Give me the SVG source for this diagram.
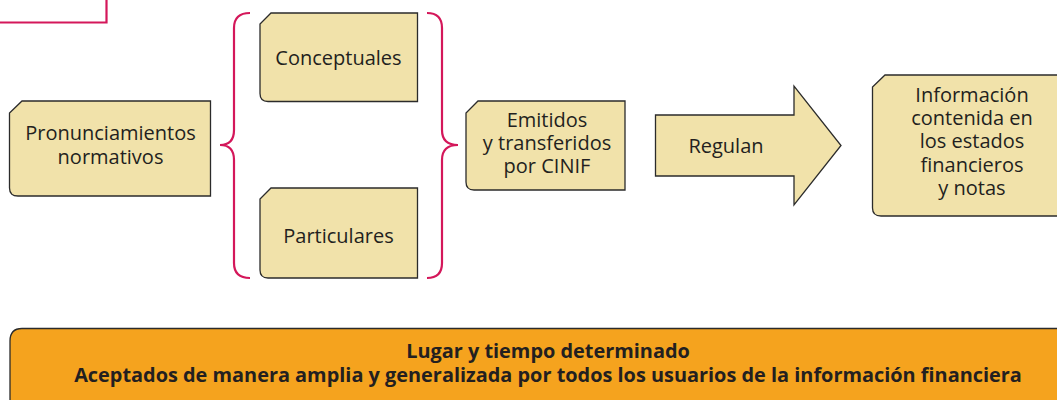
<svg xmlns="http://www.w3.org/2000/svg" width="1057" height="400" viewBox="0 0 1057 400">
<style>
.box{fill:#f1e2aa;stroke:#2b2b2b;stroke-width:1.3}
.t{font-family:"Open Sans","Noto Sans",sans-serif;font-size:20px;fill:#231f20;text-anchor:middle}
.b{font-family:"Open Sans","Noto Sans",sans-serif;font-size:19.9px;font-weight:bold;fill:#231f20;text-anchor:middle}
.red{fill:none;stroke:#d4175a;stroke-width:2.2}
</style>
<rect width="1057" height="400" fill="#ffffff"/>
<g id="corner-frame"><path class="red" d="M0 22.5 H106.5 V0"/></g>
<g id="connectors">
<path id="brace-left" class="red" d="M250 13 Q234 13 234 28 V130 Q234 145 220 145 Q234 145 234 160 V263 Q234 278 250 278"/>
<path id="brace-right" class="red" d="M427 13 Q442 13 442 28 V130 Q442 145 458 145 Q442 145 442 160 V263 Q442 278 427 278"/>
</g>
<g id="n-pronunciamientos">
<path class="box" d="M22 101 H210.5 V196 H18 Q9.5 196 9.5 188 V113 Z"/>
<text class="t" x="110.5" y="140">Pronunciamientos</text>
<text class="t" x="110.5" y="164">normativos</text>
</g>
<g id="n-conceptuales">
<path class="box" d="M271 13 H417.5 V101.5 H268 Q260 101.5 260 93.5 V24 Z"/>
<text class="t" x="338.5" y="65">Conceptuales</text>
</g>
<g id="n-particulares">
<path class="box" d="M271 188 H417.5 V278 H268 Q260 278 260 270 V199 Z"/>
<text class="t" x="338.5" y="243">Particulares</text>
</g>
<g id="n-emitidos">
<path class="box" d="M478 101 H625 V190 H474 Q466 190 466 182 V113 Z"/>
<text class="t" x="547" y="127">Emitidos</text>
<text class="t" x="547" y="150">y transferidos</text>
<text class="t" x="547" y="173">por CINIF</text>
</g>
<g id="n-regulan">
<path class="box" d="M655.5 115 H794 V86 L841 145.5 L794 205 V176 H655.5 Z"/>
<text class="t" x="726" y="153">Regulan</text>
</g>
<g id="n-informacion">
<path class="box" d="M885 75 H1060 V216 H881 Q872.5 216 872.5 208 V87 Z"/>
<text class="t" x="972" y="102">Información</text>
<text class="t" x="972" y="125">contenida en</text>
<text class="t" x="972" y="148">los estados</text>
<text class="t" x="972" y="172">financieros</text>
<text class="t" x="972" y="195">y notas</text>
</g>
<g id="n-lugar">
<path d="M10 410 V341 Q10 328.5 22 328.5 H1060 V410 Z" fill="#f5a31e" stroke="#2b2b2b" stroke-width="1.3"/>
<text class="b" x="548" y="358">Lugar y tiempo determinado</text>
<text class="b" x="548" y="382">Aceptados de manera amplia y generalizada por todos los usuarios de la información financiera</text>
</g>
</svg>
